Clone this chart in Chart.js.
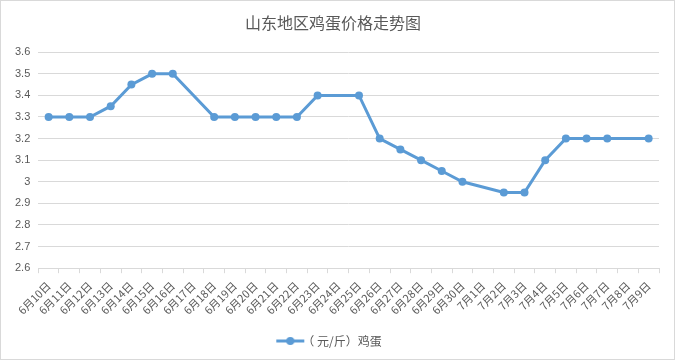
<!DOCTYPE html>
<html>
<head>
<meta charset="utf-8">
<script src="https://cdn.jsdelivr.net/npm/chart.js@4"></script>
<style>
  html, body { margin: 0; padding: 0; background: #fff; }
  #wrap { position: relative; width: 673px; height: 358px; border: 1px solid #d9d9d9; }
</style>
</head>
<body>
<div id="wrap"><canvas id="eggchart"></canvas></div>
<script>
'use strict';

const lineBlue = "#5b9bd5";
const textGrey = "#595959";

var days = [
    "6月10日", "6月11日", "6月12日", "6月13日", "6月14日", "6月15日", "6月16日",
    "6月17日", "6月18日", "6月19日", "6月20日", "6月21日", "6月22日", "6月23日",
    "6月24日", "6月25日", "6月26日", "6月27日", "6月28日", "6月29日", "6月30日",
    "7月1日", "7月2日", "7月3日", "7月4日", "7月5日", "7月6日", "7月7日",
    "7月8日", "7月9日"
];

// no price recorded on some days, the line just runs across them
var eggPrice = [
    3.3, 3.3, 3.3, 3.35, 3.45, 3.5, 3.5,
    null, 3.3, 3.3, 3.3, 3.3, 3.3, 3.4,
    null, 3.4, 3.2, 3.15, 3.1, 3.05, 3.0,
    null, 2.95, 2.95, 3.1, 3.2, 3.2, 3.2,
    null, 3.2
];

var yTicks = [2.6, 2.7, 2.8, 2.9, 3, 3.1, 3.2, 3.3, 3.4, 3.5, 3.6];

// legend marker: short line with a dot, like the spreadsheet one
var legendMark = document.createElement("canvas");
legendMark.width = 30;
legendMark.height = 10;
var lm = legendMark.getContext("2d");
lm.strokeStyle = lineBlue;
lm.lineWidth = 3;
lm.beginPath();
lm.moveTo(1, 5);
lm.lineTo(29, 5);
lm.stroke();
lm.fillStyle = lineBlue;
lm.beginPath();
lm.arc(15, 5, 4, 0, Math.PI * 2);
lm.fill();

const ctx = document.getElementById('eggchart').getContext('2d');
var eggchart = new Chart(ctx, {
    type: 'line',
    data: {
        labels: days,
        datasets: [{
            label: '（ 元/斤）鸡蛋',
            data: eggPrice,
            borderColor: lineBlue,
            backgroundColor: lineBlue,
            borderWidth: 3,
            pointRadius: 4,
            pointHoverRadius: 4,
            pointBackgroundColor: lineBlue,
            pointBorderWidth: 0,
            spanGaps: true,
            tension: 0
        }]
    },
    options: {
        responsive: true,
        maintainAspectRatio: false,
        animation: false,
        layout: {
            padding: { left: 6, right: 15, top: 4, bottom: 2 }
        },
        scales: {
            x: {
                offset: true,
                grid: {
                    offset: true,
                    drawOnChartArea: false,
                    tickLength: 5,
                    color: "#d9d9d9"
                },
                border: { color: "#d9d9d9" },
                ticks: {
                    autoSkip: false,
                    minRotation: 45,
                    maxRotation: 45,
                    padding: 6,
                    color: textGrey,
                    font: { family: "'Noto Sans CJK SC', sans-serif", size: 11 }
                }
            },
            y: {
                min: 2.6,
                max: 3.6,
                afterBuildTicks: function(axis){
                    axis.ticks = yTicks.map(v => ({ value: v }));
                },
                grid: {
                    drawTicks: false,
                    color: "#d9d9d9"
                },
                border: { display: false },
                ticks: {
                    padding: 8,
                    color: textGrey,
                    font: { family: "'Liberation Sans', sans-serif", size: 11 },
                    callback: function(v){ return String(Math.round(v * 10) / 10); }
                }
            }
        },
        plugins: {
            title: {
                display: true,
                text: '山东地区鸡蛋价格走势图',
                color: textGrey,
                font: { family: "'Noto Sans CJK SC', sans-serif", size: 16, weight: 'normal' },
                padding: { top: 8, bottom: 20 }
            },
            legend: {
                position: 'bottom',
                labels: {
                    usePointStyle: true,
                    color: textGrey,
                    font: { family: "'Noto Sans CJK SC', sans-serif", size: 12 },
                    padding: 12,
                    generateLabels: function(chart){
                        return chart.data.datasets.map((d, i) => ({
                            text: d.label,
                            fontColor: textGrey,
                            pointStyle: legendMark,
                            datasetIndex: i,
                            hidden: false
                        }));
                    }
                }
            },
            tooltip: { enabled: false }
        }
    }
});
</script>
</body>
</html>
